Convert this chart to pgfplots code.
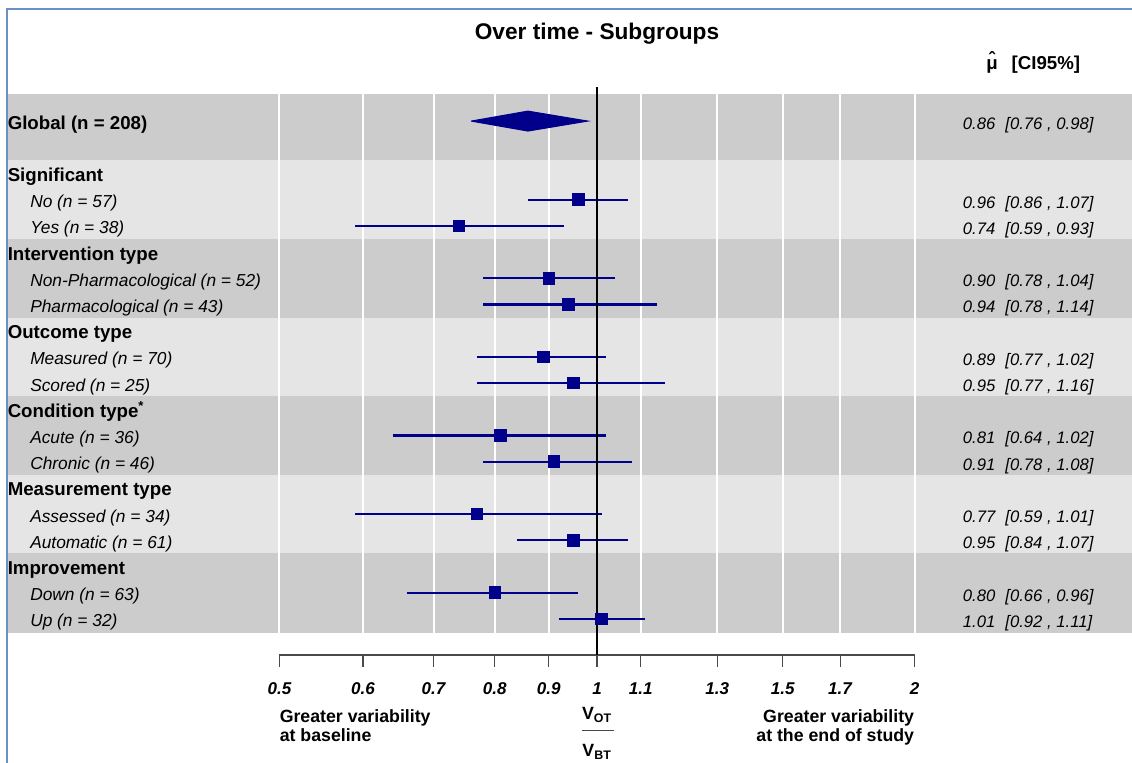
\documentclass[border=0pt]{standalone}
\usepackage{fontspec}
\setmainfont{Liberation Sans}
\usepackage{pgfplots}
\pgfplotsset{compat=1.18}
\usepackage{pgfplotstable}
\definecolor{navyb}{HTML}{00008B}
\definecolor{bandD}{HTML}{CCCCCC}
\definecolor{bandL}{HTML}{E5E5E5}
\definecolor{frameblue}{HTML}{6A8FCB}
\definecolor{axgray}{HTML}{4A4A4A}

% row (top-down), estimate, lower and upper 95% CI
\pgfplotstableread{
row est lo hi
0  0.86 0.76 0.98
3  0.96 0.86 1.07
4  0.74 0.59 0.93
6  0.90 0.78 1.04
7  0.94 0.78 1.14
9  0.89 0.77 1.02
10 0.95 0.77 1.16
12 0.81 0.64 1.02
13 0.91 0.78 1.08
15 0.77 0.59 1.01
16 0.95 0.84 1.07
18 0.80 0.66 0.96
19 1.01 0.92 1.11
}\foresttab

\newcommand{\muhat}{\leavevmode\setbox0=\hbox{μ}\rlap{\hbox to\wd0{\hss\raisebox{0.22em}{ˆ}\hss}}\box0}
\newcommand{\hdr}{\bfseries\fontsize{14}{16}\selectfont}
\newcommand{\itm}{\itshape\fontsize{13}{15}\selectfont}
\newcommand{\rval}{\itshape\fontsize{12.5}{14}\selectfont}

\begin{document}
\begin{tikzpicture}[x=0.75pt,y=0.75pt]
\path[use as bounding box] (0,0) rectangle (1132,763);
% background bands
\fill[bandD] (8,669.0) rectangle (1132,602.6);
\fill[bandL] (8,602.6) rectangle (1132,524.0);
\fill[bandD] (8,524.0) rectangle (1132,445.4);
\fill[bandL] (8,445.4) rectangle (1132,366.8);
\fill[bandD] (8,366.8) rectangle (1132,288.2);
\fill[bandL] (8,288.2) rectangle (1132,209.6);
\fill[bandD] (8,209.6) rectangle (1132,129.7);

\begin{axis}[
  at={(209.625pt,81pt)}, anchor=south west,
  scale only axis, width=476.25pt, height=420.75pt,
  xmode=log, xmin=0.5, xmax=2,
  ymin=-20.378, ymax=1.034,
  axis y line=none, axis x line*=bottom,
  x axis line style={-, draw=axgray, line width=0.8pt},
  tick style={draw=axgray, line width=0.8pt},
  tick align=outside, major tick length=9pt,
  xtick={0.5,0.6,0.7,0.8,0.9,1,1.1,1.3,1.5,1.7,2},
  xticklabels={0.5,0.6,0.7,0.8,0.9,1,1.1,1.3,1.5,1.7,2},
  xticklabel style={font=\bfseries\itshape\fontsize{12.8}{14}\selectfont, anchor=base, yshift=-20.8pt},
  ytick=\empty,
  clip=false,
]
\pgfplotsinvokeforeach{0.5,0.6,0.7,0.8,0.9,1.1,1.3,1.5,1.7,2}{
  \draw[white, line width=1.5pt] (axis cs:#1,1.034) -- (axis cs:#1,-19.55);
}
% confidence intervals
\addplot[navyb, line width=1.7pt] coordinates {(0.86,-3) (1.07,-3)};
\addplot[navyb, line width=1.7pt] coordinates {(0.59,-4) (0.93,-4)};
\addplot[navyb, line width=1.7pt] coordinates {(0.78,-6) (1.04,-6)};
\addplot[navyb, line width=1.7pt] coordinates {(0.78,-7) (1.14,-7)};
\addplot[navyb, line width=1.7pt] coordinates {(0.77,-9) (1.02,-9)};
\addplot[navyb, line width=1.7pt] coordinates {(0.77,-10) (1.16,-10)};
\addplot[navyb, line width=1.7pt] coordinates {(0.64,-12) (1.02,-12)};
\addplot[navyb, line width=1.7pt] coordinates {(0.78,-13) (1.08,-13)};
\addplot[navyb, line width=1.7pt] coordinates {(0.59,-15) (1.01,-15)};
\addplot[navyb, line width=1.7pt] coordinates {(0.84,-16) (1.07,-16)};
\addplot[navyb, line width=1.7pt] coordinates {(0.66,-18) (0.96,-18)};
\addplot[navyb, line width=1.7pt] coordinates {(0.92,-19) (1.11,-19)};
% reference line
\draw[black, line width=1.5pt] (axis cs:1,1.29) -- (axis cs:1,-20.378);
% point estimates
\addplot[only marks, mark=square*, mark size=4.3pt, color=navyb,
  mark options={line width=0pt}, skip coords between index={0}{1}]
  table[x=est, y expr=-\thisrow{row}] {\foresttab};
% global diamond
\addplot[fill=navyb, draw=navyb, line width=0.8pt]
  coordinates {(0.76,0) (0.86,0.38) (0.98,0) (0.86,-0.38) (0.76,0)};
\end{axis}

% frame
\draw[frameblue, line width=1.5pt] (6.7,0) -- (6.7,753.7) -- (1132,753.7);

% title and header
\node[anchor=base, inner sep=0pt, font=\bfseries\fontsize{17}{20}\selectfont] at (597,723.5) {Over time - Subgroups};
\node[anchor=base west, inner sep=0pt, font=\hdr] at (986,693) {\muhat\hspace{0.75em}[CI95\%]};

% left labels
\begin{scope}[every node/.style={anchor=base west, inner sep=0pt}]
\node[font=\hdr] at (7.5,{633.9-26.2*0}) {Global (n = 208)};
\node[font=\hdr] at (7.5,{633.9-26.2*2}) {Significant};
\node[font=\itm] at (30,{633.9-26.2*3}) {No (n = 57)};
\node[font=\itm] at (30,{633.9-26.2*4}) {Yes (n = 38)};
\node[font=\hdr] at (7.5,{633.9-26.2*5}) {Intervention type};
\node[font=\itm] at (30,{633.9-26.2*6}) {Non-Pharmacological (n = 52)};
\node[font=\itm] at (30,{633.9-26.2*7}) {Pharmacological (n = 43)};
\node[font=\hdr] at (7.5,{633.9-26.2*8}) {Outcome type};
\node[font=\itm] at (30,{633.9-26.2*9}) {Measured (n = 70)};
\node[font=\itm] at (30,{633.9-26.2*10}) {Scored (n = 25)};
\node[font=\hdr] at (7.5,{633.9-26.2*11}) {Condition type\textsuperscript{*}};
\node[font=\itm] at (30,{633.9-26.2*12}) {Acute (n = 36)};
\node[font=\itm] at (30,{633.9-26.2*13}) {Chronic (n = 46)};
\node[font=\hdr] at (7.5,{633.9-26.2*14}) {Measurement type};
\node[font=\itm] at (30,{633.9-26.2*15}) {Assessed (n = 34)};
\node[font=\itm] at (30,{633.9-26.2*16}) {Automatic (n = 61)};
\node[font=\hdr] at (7.5,{633.9-26.2*17}) {Improvement};
\node[font=\itm] at (30,{633.9-26.2*18}) {Down (n = 63)};
\node[font=\itm] at (30,{633.9-26.2*19}) {Up (n = 32)};
% right values
\node[font=\rval] at (962.7,{633.4-26.2*0}) {0.86\hspace{0.6em}[0.76 , 0.98]};
\node[font=\rval] at (962.7,{633.4-26.2*3}) {0.96\hspace{0.6em}[0.86 , 1.07]};
\node[font=\rval] at (962.7,{633.4-26.2*4}) {0.74\hspace{0.6em}[0.59 , 0.93]};
\node[font=\rval] at (962.7,{633.4-26.2*6}) {0.90\hspace{0.6em}[0.78 , 1.04]};
\node[font=\rval] at (962.7,{633.4-26.2*7}) {0.94\hspace{0.6em}[0.78 , 1.14]};
\node[font=\rval] at (962.7,{633.4-26.2*9}) {0.89\hspace{0.6em}[0.77 , 1.02]};
\node[font=\rval] at (962.7,{633.4-26.2*10}) {0.95\hspace{0.6em}[0.77 , 1.16]};
\node[font=\rval] at (962.7,{633.4-26.2*12}) {0.81\hspace{0.6em}[0.64 , 1.02]};
\node[font=\rval] at (962.7,{633.4-26.2*13}) {0.91\hspace{0.6em}[0.78 , 1.08]};
\node[font=\rval] at (962.7,{633.4-26.2*15}) {0.77\hspace{0.6em}[0.59 , 1.01]};
\node[font=\rval] at (962.7,{633.4-26.2*16}) {0.95\hspace{0.6em}[0.84 , 1.07]};
\node[font=\rval] at (962.7,{633.4-26.2*18}) {0.80\hspace{0.6em}[0.66 , 0.96]};
\node[font=\rval] at (962.7,{633.4-26.2*19}) {1.01\hspace{0.6em}[0.92 , 1.11]};
\end{scope}

% bottom annotations
\begin{scope}[every node/.style={inner sep=0pt, font=\bfseries\fontsize{13.3}{15}\selectfont}]
\node[anchor=base west] at (279.5,40) {Greater variability};
\node[anchor=base west] at (279.5,21.5) {at baseline};
\node[anchor=base east] at (914.3,40) {Greater variability};
\node[anchor=base east] at (914.3,21.5) {at the end of study};
\node[anchor=base] at (597,43.5) {V\textsubscript{OT}};
\node[anchor=base] at (597,6) {V\textsubscript{BT}};
\end{scope}
\draw[axgray, line width=1pt] (581.7,32.3) -- (614,32.3);
\end{tikzpicture}
\end{document}
